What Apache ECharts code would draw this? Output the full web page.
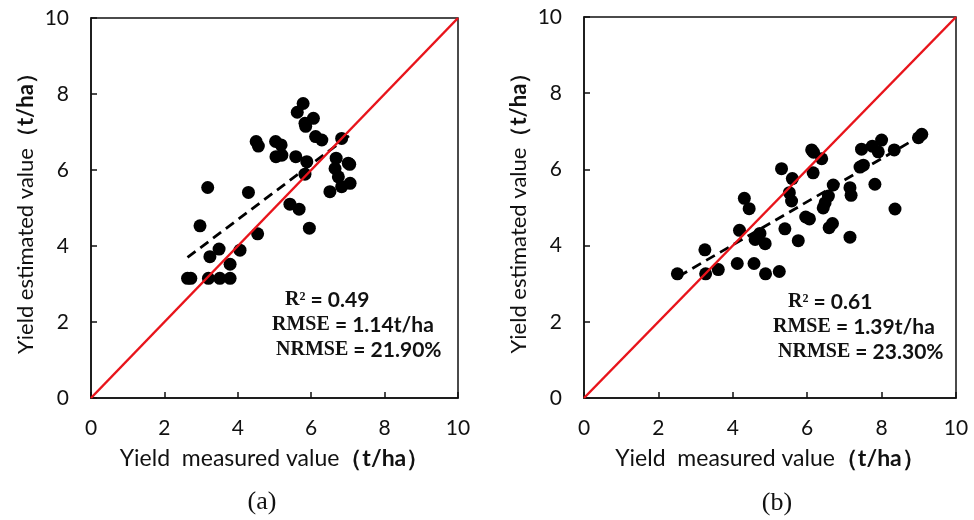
<!DOCTYPE html>
<html>
<head>
<meta charset="utf-8">
<script src="https://cdn.jsdelivr.net/npm/echarts@6/dist/echarts.min.js"></script>
<style>html,body{margin:0;padding:0;background:#fff}#main{width:974px;height:520px}</style>
</head>
<body>
<div id="main"></div>
<script>
// panel (a): measured / estimated yield, t/ha
var measuredA = [5.78, 5.62, 6.06, 5.83, 5.85, 6.12, 6.29, 6.83, 4.50, 4.56, 5.03, 5.18, 5.04, 5.20, 5.58, 5.88, 6.68, 7.01, 7.05, 6.65, 5.83, 6.74, 6.51, 6.83, 7.06, 3.18, 4.29, 5.42, 5.67, 5.95, 2.97, 4.54, 3.49, 3.24, 4.06, 3.79, 2.63, 2.72, 3.20, 3.51, 3.79]
var estimatedA = [7.75, 7.52, 7.36, 7.23, 7.15, 6.88, 6.79, 6.83, 6.75, 6.63, 6.75, 6.66, 6.35, 6.39, 6.35, 6.22, 6.31, 6.18, 6.15, 6.04, 5.89, 5.82, 5.43, 5.56, 5.65, 5.54, 5.41, 5.10, 4.97, 4.47, 4.53, 4.32, 3.92, 3.72, 3.89, 3.52, 3.15, 3.15, 3.15, 3.15, 3.15]
var fitA = [[2.63, 3.70], [7.06, 6.92]]
var statsA = ['0.49', '1.14t/ha', '21.90%']

// panel (b)
var measuredB = [9.08, 8.99, 8.00, 7.75, 7.46, 7.91, 8.34, 6.12, 6.17, 6.39, 5.31, 6.16, 7.51, 7.42, 5.60, 6.70, 7.82, 7.15, 7.18, 5.52, 5.58, 6.57, 6.48, 6.43, 4.31, 4.44, 8.36, 5.96, 6.06, 6.68, 6.59, 5.40, 4.18, 4.73, 4.60, 4.87, 5.76, 7.15, 3.25, 4.12, 4.57, 3.61, 3.27, 4.88, 5.25, 2.51]
var estimatedB = [6.92, 6.83, 6.77, 6.61, 6.53, 6.46, 6.51, 6.51, 6.45, 6.28, 6.02, 5.91, 6.11, 6.06, 5.76, 5.59, 5.61, 5.52, 5.32, 5.39, 5.17, 5.30, 5.12, 4.99, 5.24, 4.97, 4.96, 4.75, 4.70, 4.58, 4.47, 4.44, 4.40, 4.32, 4.16, 4.05, 4.13, 4.22, 3.89, 3.53, 3.53, 3.37, 3.26, 3.26, 3.32, 3.26]
var fitB = [[2.54, 3.19], [9.12, 6.92]]
var statsB = ['0.61', '1.39t/ha', '23.30%']

var oneToOne = [[0, 0], [10, 10]]

function pairs(xs, ys) {
  return xs.map(function (x, i) { return [x, ys[i]] })
}

var labelFont = 'Lato, "Noto Sans", sans-serif'

function valueAxis(gridIndex, isX) {
  var fs = isX ? 23 : 22
  return {
    type: 'value',
    gridIndex: gridIndex,
    min: 0,
    max: 10,
    interval: 2,
    name: isX ? '{n|Yield  measured value}{b|（t/ha）}' : '{n|Yield estimated value}{b|（t/ha）}',
    nameLocation: 'middle',
    nameGap: isX ? 49 : 54,
    nameTextStyle: {
      rich: {
        n: { fontFamily: labelFont, fontSize: fs, color: '#111' },
        b: { fontFamily: labelFont, fontSize: fs, fontWeight: 'bold', color: '#111' }
      }
    },
    axisLine: { show: true, lineStyle: { color: '#111', width: 1.5 } },
    axisTick: { show: true, inside: true, length: 6, lineStyle: { color: '#111', width: 1.5 } },
    axisLabel: { margin: isX ? 20 : 22, fontFamily: labelFont, fontSize: 21, color: '#111' },
    splitLine: { show: false }
  }
}

function statText(x, y, head, val) {
  return {
    type: 'text',
    x: x,
    y: y,
    style: {
      text: '{s|' + head + '}{v| = ' + val + '}',
      verticalAlign: 'middle',
      rich: {
        s: { fontFamily: '"Liberation Serif", serif', fontWeight: 'bold', fontSize: 20, fill: '#111' },
        v: { fontFamily: labelFont, fontWeight: 'bold', fontSize: 21, fill: '#111' }
      }
    }
  }
}

function panelSeries(idx, pts, fit) {
  return [
    {
      type: 'scatter', xAxisIndex: idx, yAxisIndex: idx,
      data: pts, symbolSize: 13, itemStyle: { color: '#000', opacity: 1 }, z: 2
    },
    {
      type: 'line', xAxisIndex: idx, yAxisIndex: idx,
      data: fit, symbol: 'none', z: 3,
      lineStyle: { color: '#000', width: 2.8, type: [10, 6] }
    },
    {
      type: 'line', xAxisIndex: idx, yAxisIndex: idx,
      data: oneToOne, symbol: 'none', z: 4,
      lineStyle: { color: '#e8141b', width: 2.5 }
    }
  ]
}

var myChart = echarts.init(document.getElementById('main'))
var option = {
  backgroundColor: '#fff',
  animation: false,
  grid: [
    { left: 91, top: 18, width: 367, height: 380, show: true, borderColor: '#111', borderWidth: 1.5 },
    { left: 584, top: 17, width: 372, height: 381, show: true, borderColor: '#111', borderWidth: 1.5 }
  ],
  xAxis: [valueAxis(0, true), valueAxis(1, true)],
  yAxis: [valueAxis(0, false), valueAxis(1, false)],
  series: panelSeries(0, pairs(measuredA, estimatedA), fitA)
    .concat(panelSeries(1, pairs(measuredB, estimatedB), fitB)),
  graphic: [
    statText(285, 300, 'R²', statsA[0]),
    statText(272, 325, 'RMSE', statsA[1]),
    statText(276, 350, 'NRMSE', statsA[2]),
    statText(788, 302, 'R²', statsB[0]),
    statText(773, 327, 'RMSE', statsB[1]),
    statText(778, 352, 'NRMSE', statsB[2]),
    {
      type: 'text', x: 262, y: 502,
      style: { text: '(a)', align: 'center', verticalAlign: 'middle', font: '26px "Liberation Serif", serif', fill: '#111' }
    },
    {
      type: 'text', x: 777, y: 503,
      style: { text: '(b)', align: 'center', verticalAlign: 'middle', font: '26px "Liberation Serif", serif', fill: '#111' }
    }
  ]
}
myChart.setOption(option)
</script>
</body>
</html>
